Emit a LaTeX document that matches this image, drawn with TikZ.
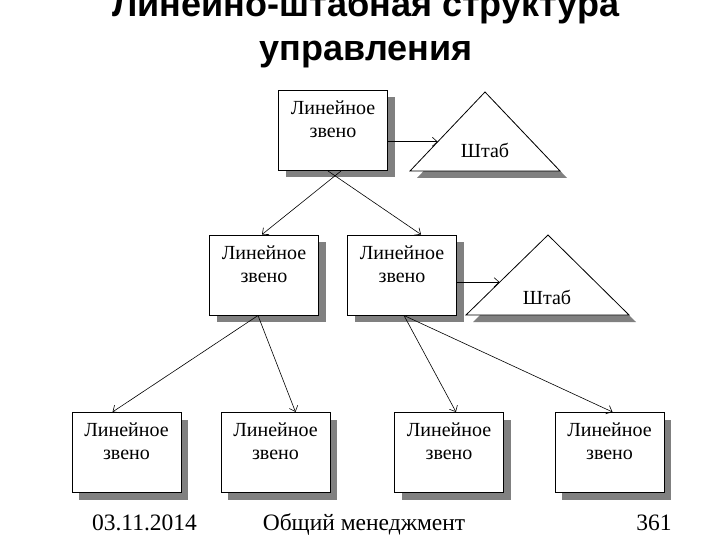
\documentclass[tikz,border=0pt]{standalone}
\usepackage{fontspec}
\setmainfont{Liberation Serif}
\newfontfamily\headfont{Liberation Sans}
\usepackage{tikz}
\usetikzlibrary{calc,shadows,arrows.meta}
\definecolor{zshadow}{HTML}{808080}
\tikzstyle{zveno} = [draw, line width=1pt, fill=white, minimum width=109pt, minimum height=80pt, align=center, font=\fontsize{20}{23}\selectfont, text depth=22pt, drop shadow={shadow xshift=7pt, shadow yshift=-7pt, fill=zshadow, opacity=1}]
\tikzstyle{shtab} = [draw, line width=0.8pt, fill=white, drop shadow={shadow xshift=7pt, shadow yshift=-7pt, fill=zshadow, opacity=1}]
\tikzstyle{shtabtext} = [inner sep=0pt, font=\fontsize{20}{23}\selectfont]
\tikzstyle{heading} = [align=center, font=\headfont\bfseries\fontsize{36}{44}\selectfont]
\tikzstyle{footer} = [anchor=base, inner sep=0pt, font=\fontsize{23.5}{28}\selectfont]
\tikzstyle{link} = [->, line width=0.6pt]

\begin{document}
\begin{tikzpicture}[x=1pt, y=-1pt, >={Straight Barb[length=5pt,width=9pt]}]
    \useasboundingbox (0,0) rectangle (720,540);
    \draw (366,29) node[heading] (title) {Линейно-штабная структура\\управления};
    % линейные звенья
    \draw (333,130.5) node[zveno] (top) {Линейное\\звено};
    \draw (264,275) node[zveno] (mid1) {Линейное\\звено};
    \draw (402,275) node[zveno] (mid2) {Линейное\\звено};
    \draw (126.5,452.5) node[zveno] (low1) {Линейное\\звено};
    \draw (275.5,452.5) node[zveno] (low2) {Линейное\\звено};
    \draw (449,452.5) node[zveno] (low3) {Линейное\\звено};
    \draw (609.5,452.5) node[zveno] (low4) {Линейное\\звено};
    % штабы
    \coordinate (s1l) at (410,171);
    \coordinate (s1a) at (485,92);
    \coordinate (s1r) at (560,171);
    \draw[shtab] (s1l) -- (s1a) -- (s1r) -- cycle;
    \draw (485,150) node[shtabtext] (staff1) {Штаб};
    \coordinate (s2l) at (466,315);
    \coordinate (s2a) at (548,235);
    \coordinate (s2r) at (629,315);
    \draw[shtab] (s2l) -- (s2a) -- (s2r) -- cycle;
    \draw (547,297) node[shtabtext] (staff2) {Штаб};
    \coordinate (in1) at ($(s1l)!.37!(s1a)$);
    \coordinate (in2) at ($(s2l)!.41!(s2a)$);
    \draw[link] (top.east |- in1) -- (in1);
    \draw[link] (mid2.east |- in2) -- (in2);
    % подчинение
    \draw[link] ([xshift=8pt]top.south) -- ([xshift=-2pt]mid1.north);
    \draw[link] ([xshift=-5pt]top.south) -- ([xshift=19pt]mid2.north);
    \draw[link] ([xshift=-6pt]mid1.south) -- ([xshift=-14pt]low1.north);
    \draw[link] ([xshift=-6pt]mid1.south) -- ([xshift=20pt]low2.north);
    \draw[link] ([xshift=2pt]mid2.south) -- ([xshift=7pt]low3.north);
    \draw[link] ([xshift=2pt]mid2.south) -- ([xshift=3pt]low4.north);
    % нижняя строка
    \node[footer] (date) at (144.5,530) {03.11.2014};
    \node[footer] (course) at (364,530) {Общий менеджмент};
    \node[footer] (page) at (654,530) {361};
\end{tikzpicture}
\end{document}
